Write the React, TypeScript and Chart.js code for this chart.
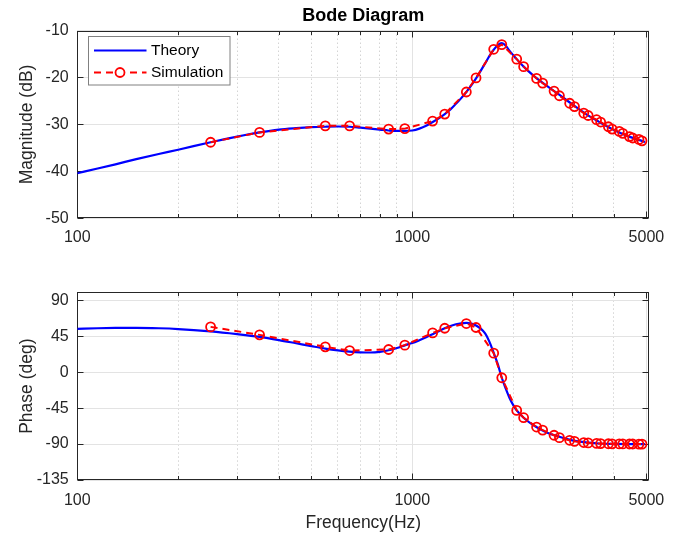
import React, { useEffect, useRef } from "react";
import { Chart, registerables } from "chart.js";

Chart.register(...registerables);

// ---------------- data ----------------
const theoryFreq = [
  100, 115, 130, 150, 175, 200, 250, 300, 350, 400, 450, 500, 550, 600, 650, 700, 750, 800, 850, 900, 950,
  1000, 1050, 1100, 1150, 1200, 1250, 1300, 1350, 1400, 1450, 1500, 1550, 1600, 1650, 1700, 1750, 1800,
  1850, 1900, 1950, 2000, 2050, 2150, 2300, 2500, 2700, 3000, 3300, 3600, 4000, 4400, 4800, 4950,
];
const theoryMag = [
  -40.4, -39.4, -38.5, -37.4, -36.3, -35.4, -33.8, -32.6, -31.7, -31.1, -30.8, -30.6, -30.5, -30.45, -30.5,
  -30.7, -30.9, -31.1, -31.3, -31.4, -31.4, -31.3, -30.9, -30.3, -29.5, -28.7, -27.8, -26.8, -25.6, -24.4,
  -23.1, -21.7, -20.2, -18.6, -17.0, -15.4, -14.1, -13.1, -12.7, -13.2, -14.3, -15.2, -16.1, -17.7, -19.6,
  -21.6, -23.3, -25.7, -27.8, -29.4, -31.2, -32.5, -33.4, -33.8,
];
const theoryPhase = [
  54.3, 55.0, 55.4, 55.5, 55.0, 54.0, 51.0, 47.6, 44.2, 40.2, 36.2, 32.6, 29.5, 27.3, 25.8, 24.9, 24.6, 25.4,
  27.4, 30.3, 33.6, 36.5, 40.0, 43.6, 47.5, 51.3, 54.9, 57.8, 60.0, 61.2, 61.6, 60.8, 58.5, 54.5, 48.5, 38.0,
  24.2, 10.0, -7.0, -20.4, -32.0, -41.0, -47.9, -57.0, -66.5, -74.8, -80.0, -85.3, -88.0, -89.3, -89.8, -90.0,
  -90.0, -90.0,
];

const simFreq = [
  250, 350, 550, 650, 850, 950, 1150, 1250, 1450, 1550, 1750, 1850, 2050, 2150, 2350, 2450, 2650, 2750, 2950,
  3050, 3250, 3350, 3550, 3650, 3850, 3950, 4150, 4250, 4450, 4550, 4750, 4850,
];
const simMag = [
  -33.8, -31.7, -30.3, -30.3, -31.0, -30.9, -29.3, -27.8, -23.1, -20.1, -14.0, -13.0, -16.1, -17.7, -20.2,
  -21.2, -22.9, -23.9, -25.5, -26.2, -27.6, -28.1, -29.0, -29.5, -30.5, -31.0, -31.5, -31.9, -32.6, -32.9,
  -33.2, -33.5,
];
const simPhase = [
  56.7, 46.7, 31.7, 27.1, 28.4, 33.8, 49.2, 55.0, 60.9, 55.9, 23.8, -7.0, -47.9, -57.0, -68.7, -72.5, -79.0,
  -82.0, -85.3, -86.6, -88.1, -88.6, -89.2, -89.4, -89.6, -89.7, -89.8, -89.8, -89.9, -89.9, -90.0, -90.0,
];

const xTicks = [100, 200, 300, 400, 500, 600, 700, 800, 900, 1000, 2000, 3000, 4000, 5000];
const xTickLabels = ["100", "", "", "", "", "", "", "", "", "1000", "", "", "", "5000"];
const xMajor = [100, 1000, 5000];
const magTicks = [-50, -40, -30, -20, -10];
const phaseTicks = [-135, -90, -45, 0, 45, 90];

const seriesNames = ["Theory", "Simulation"];

// ---------------- styling ----------------
const FONT = "'Liberation Sans', Arial, Helvetica, sans-serif";
const TEXT = "#262626";
const BLUE = "#0000ff";
const RED = "#ff0000";

const framePlugin = {
  id: "matlabFrame",
  beforeDatasetsDraw(chart: any) {
    const { ctx, chartArea: a, scales } = chart;
    const L = Math.round(a.left) + 0.5;
    const R = Math.round(a.right) - 0.5;
    const T = Math.round(a.top) + 0.5;
    const B = Math.round(a.bottom) - 0.5;
    ctx.save();
    ctx.strokeStyle = TEXT;
    ctx.lineWidth = 1;
    ctx.setLineDash([]);
    const seg = (x1: number, y1: number, x2: number, y2: number) => {
      ctx.beginPath();
      ctx.moveTo(x1, y1);
      ctx.lineTo(x2, y2);
      ctx.stroke();
    };
    const xs = scales.x;
    xs.ticks.forEach((t: any) => {
      const px = Math.round(xs.getPixelForValue(t.value)) + 0.5;
      const len = xMajor.includes(t.value) ? 6 : 3.5;
      seg(px, B, px, B - len);
      seg(px, T, px, T + len);
    });
    const ys = scales.y;
    ys.ticks.forEach((t: any) => {
      const py = Math.round(ys.getPixelForValue(t.value)) + 0.5;
      seg(L, py, L + 6, py);
      seg(R, py, R - 6, py);
    });
    ctx.strokeRect(L, T, R - L, B - T);
    ctx.restore();
  },
};

const legendPlugin = {
  id: "matlabLegend",
  afterDatasetsDraw(chart: any, _args: any, opts: any) {
    if (!opts || !opts.show) return;
    const { ctx, chartArea: a } = chart;
    const x0 = Math.round(a.left + 10.4) + 0.5;
    const y0 = Math.round(a.top + 5.2) + 0.5;
    const w = 141.5;
    const h = 48.5;
    ctx.save();
    ctx.fillStyle = "#ffffff";
    ctx.fillRect(x0, y0, w, h);
    ctx.strokeStyle = "#808080";
    ctx.lineWidth = 1;
    ctx.strokeRect(x0, y0, w, h);
    const dsList = seriesNames.map((n) => chart.data.datasets.find((d: any) => d.label === n));
    dsList.forEach((ds: any, i: number) => {
      const cy = y0 + 14 + i * 22;
      ctx.strokeStyle = ds.borderColor;
      ctx.lineWidth = ds.borderWidth;
      ctx.setLineDash(ds.borderDash || []);
      ctx.beginPath();
      ctx.moveTo(x0 + 5.5, cy);
      ctx.lineTo(x0 + 58, cy);
      ctx.stroke();
      ctx.setLineDash([]);
      if (ds.pointRadius > 0) {
        ctx.lineWidth = ds.pointBorderWidth;
        ctx.fillStyle = "#ffffff";
        ctx.beginPath();
        ctx.arc(x0 + 31.5, cy, ds.pointRadius, 0, Math.PI * 2);
        ctx.fill();
        ctx.stroke();
      }
      ctx.fillStyle = "#000000";
      ctx.font = `15.5px ${FONT}`;
      ctx.textAlign = "left";
      ctx.textBaseline = "middle";
      ctx.fillText(ds.label, x0 + 62.5, cy + 0.5);
    });
    ctx.restore();
  },
};

function makeConfig(kind: "mag" | "phase"): any {
  const isMag = kind === "mag";
  const theoryVals = isMag ? theoryMag : theoryPhase;
  const simVals = isMag ? simMag : simPhase;
  const yTicks = isMag ? magTicks : phaseTicks;

  return {
    type: "line",
    data: {
      datasets: [
        {
          label: seriesNames[0],
          data: theoryFreq.map((f, i) => ({ x: f, y: theoryVals[i] })),
          borderColor: BLUE,
          backgroundColor: BLUE,
          borderWidth: 2.2,
          pointRadius: 0,
          pointBorderWidth: 0,
          cubicInterpolationMode: "monotone",
          fill: false,
          order: 2,
        },
        {
          label: seriesNames[1],
          data: simFreq.map((f, i) => ({ x: f, y: simVals[i] })),
          borderColor: RED,
          backgroundColor: "rgba(0,0,0,0)",
          borderWidth: 2,
          borderDash: [7, 5],
          pointRadius: 4.5,
          pointBorderWidth: 1.8,
          pointBorderColor: RED,
          pointBackgroundColor: "rgba(0,0,0,0)",
          pointStyle: "circle",
          tension: 0,
          fill: false,
          order: 1,
        },
      ],
    },
    options: {
      responsive: false,
      animation: false,
      devicePixelRatio: 1,
      events: [],
      layout: { padding: { left: 0, right: 36.7, top: isMag ? 0 : 32.3, bottom: 0 } },
      scales: {
        x: {
          type: "logarithmic",
          min: 100,
          max: 5100,
          afterBuildTicks: (s: any) => {
            s.ticks = xTicks.map((v) => ({ value: v, major: xMajor.includes(v) }));
          },
          afterFit: (s: any) => {
            s.height = isMag ? 41.7 : 57;
          },
          ticks: {
            autoSkip: false,
            maxRotation: 0,
            minRotation: 0,
            padding: isMag ? 10.1 : 11.4,
            color: TEXT,
            font: { family: FONT, size: 16 },
            callback: (_v: any, i: number) => xTickLabels[i],
          },
          grid: {
            drawTicks: false,
            lineWidth: 1,
            color: (c: any) =>
              c.tick && xMajor.includes(c.tick.value) ? "#e3e3e3" : "#d4d4d4",
          },
          border: {
            display: false,
            dash: (c: any) => (c.tick && !xMajor.includes(c.tick.value) ? [1.5, 2.5] : []),
          },
          title: {
            display: !isMag,
            text: "Frequency(Hz)",
            color: TEXT,
            font: { family: FONT, size: 17.5 },
            padding: { top: 0, bottom: 3.5 },
          },
        },
        y: {
          type: "linear",
          min: isMag ? -50 : -135,
          max: isMag ? -10 : 100,
          afterBuildTicks: (s: any) => {
            s.ticks = yTicks.map((v) => ({ value: v }));
          },
          afterFit: (s: any) => {
            s.width = 77.3;
          },
          ticks: {
            padding: 8.6,
            color: TEXT,
            font: { family: FONT, size: 16 },
          },
          grid: { drawTicks: false, lineWidth: 1, color: "#e3e3e3" },
          border: { display: false },
          title: {
            display: true,
            text: isMag ? "Magnitude (dB)" : "Phase (deg)",
            color: TEXT,
            font: { family: FONT, size: 17.5 },
            padding: { top: 17, bottom: 0 },
          },
        },
      },
      plugins: {
        legend: { display: false },
        tooltip: { enabled: false },
        title: {
          display: isMag,
          text: "Bode Diagram",
          fullSize: false,
          color: "#000000",
          font: { family: FONT, size: 18, weight: "bold" },
          padding: { top: 5.2, bottom: 3.7 },
        },
        matlabLegend: { show: isMag },
      },
    },
    plugins: [framePlugin, legendPlugin],
  };
}

export default function App() {
  const topRef = useRef<HTMLCanvasElement>(null);
  const botRef = useRef<HTMLCanvasElement>(null);

  useEffect(() => {
    const c1 = new Chart(topRef.current as HTMLCanvasElement, makeConfig("mag"));
    const c2 = new Chart(botRef.current as HTMLCanvasElement, makeConfig("phase"));
    return () => {
      c1.destroy();
      c2.destroy();
    };
  }, []);

  return (
    <div
      style={{
        position: "fixed",
        left: 0,
        top: 0,
        width: 686,
        height: 537,
        background: "#ffffff",
        overflow: "hidden",
      }}
    >
      <canvas
        ref={topRef}
        width={686}
        height={260}
        style={{ position: "absolute", left: 0, top: 0, display: "block" }}
      />
      <canvas
        ref={botRef}
        width={686}
        height={277}
        style={{ position: "absolute", left: 0, top: 260, display: "block" }}
      />
    </div>
  );
}
